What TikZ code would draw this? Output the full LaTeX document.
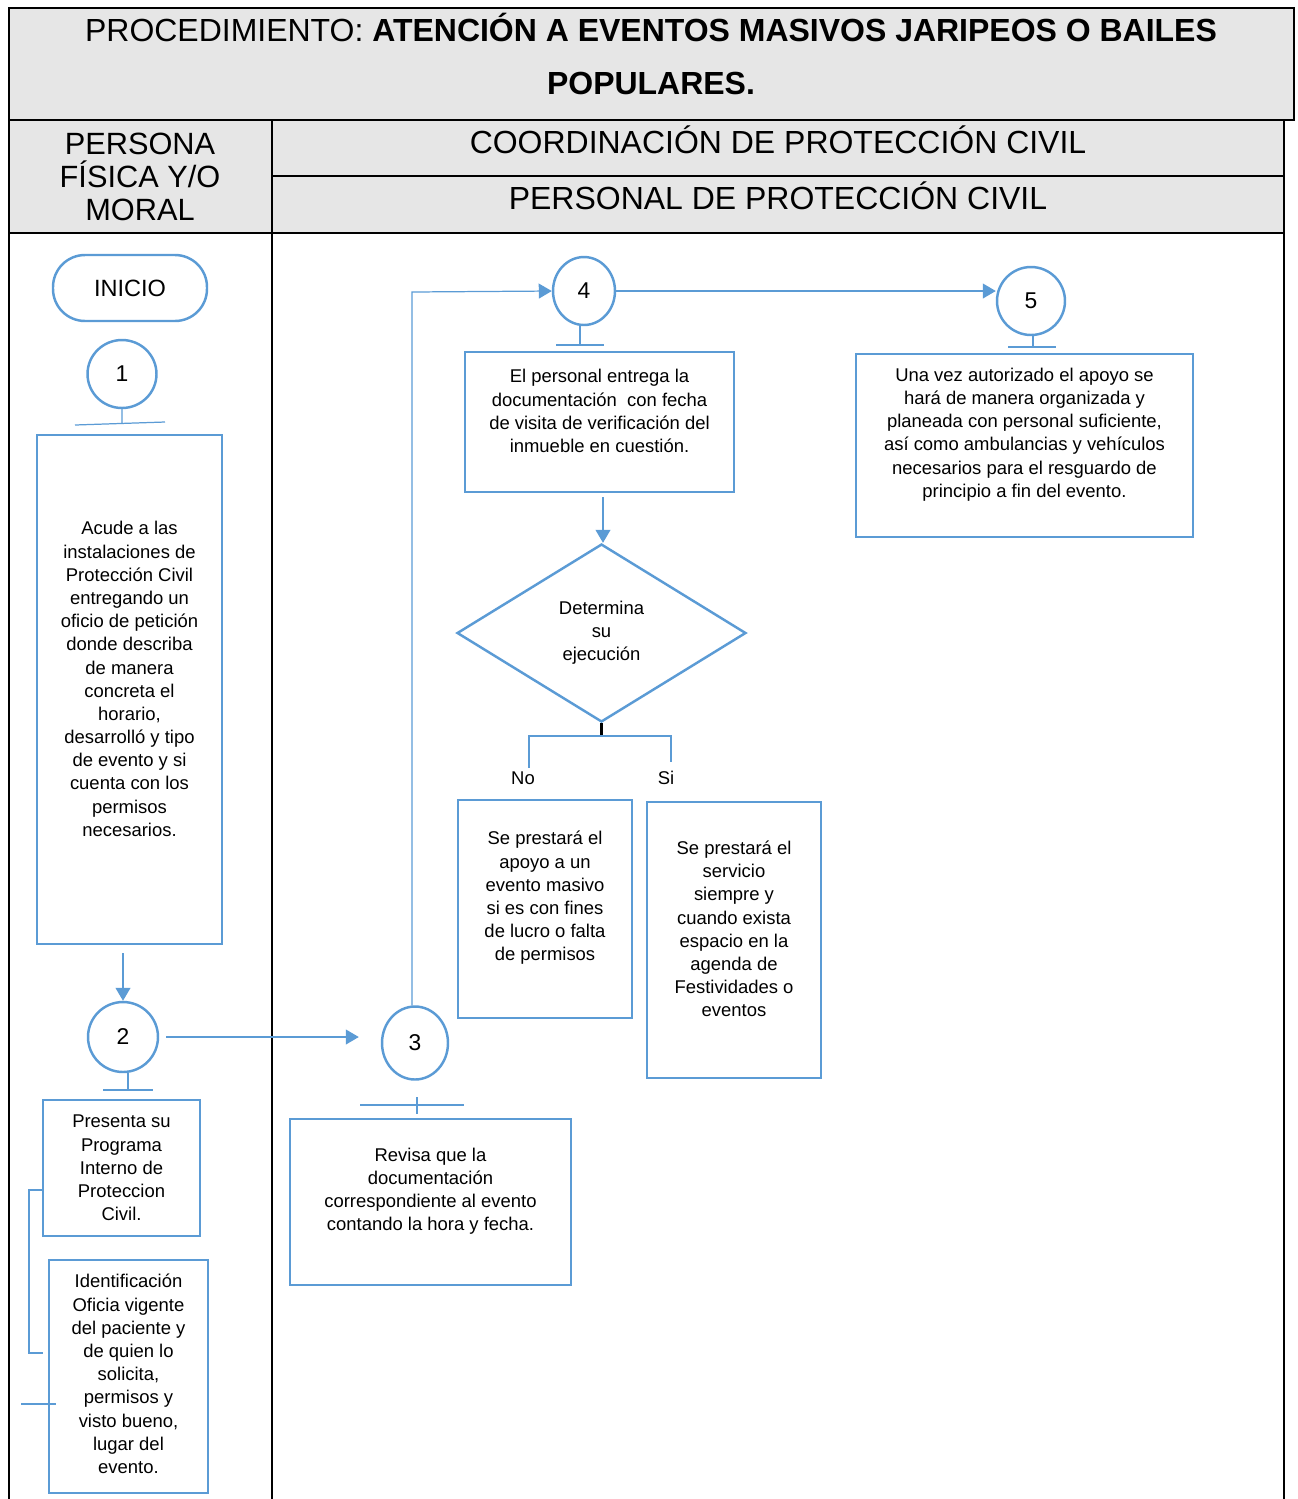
\documentclass[tikz,border=0pt]{standalone}
\usepackage{fontspec}
\setmainfont{Liberation Sans}
\usetikzlibrary{shapes.geometric,arrows.meta,positioning,calc}
\definecolor{flowblue}{HTML}{5B9BD5}
\definecolor{headgray}{HTML}{E6E6E6}
\tikzset{
    head-cell/.style = {draw=black, line width=1.1pt, fill=headgray},
    head-text/.style = {align=center, font=\fontsize{18.2}{19}\selectfont},
    flow-box/.style = {draw=flowblue, line width=1.4pt, rectangle, inner sep=0pt},
    flow-text/.style = {align=center, font=\fontsize{10.5}{13.2}\selectfont},
    flow-circle/.style = {draw=flowblue, line width=1.4pt, ellipse, inner sep=0pt, font=\fontsize{13}{15}\selectfont},
    flow-line/.style = {draw=flowblue, line width=0.7pt},
    flow-arrow/.style = {flow-line, -{Triangle[length=7.4pt,width=8.5pt]}},
}

\begin{document}
\begin{tikzpicture}[x=0.02cm, y=-0.02cm]
\useasboundingbox (0,0) rectangle (1298,1499);
% encabezado
\draw[head-cell] (9,8) rectangle (1294,120);
\draw[head-cell] (9,120) rectangle (272,233);
\draw[head-cell] (272,120) rectangle (1284,176);
\draw[head-cell] (272,176) rectangle (1284,233);
\draw[line width=1.1pt] (9,233) -- (9,1499) (272,233) -- (272,1499) (1284,233) -- (1284,1499);
\node[head-text, font=\fontsize{18.2}{30.6}\selectfont] (title) at (651,54) {PROCEDIMIENTO: \textbf{ATENCIÓN A EVENTOS MASIVOS JARIPEOS O BAILES}\\\textbf{POPULARES.}};
\node[head-text, font=\fontsize{17.5}{19}\selectfont] (persona) at (140,177) {PERSONA\\FÍSICA Y/O\\MORAL};
\node[head-text] (coord) at (778,140) {COORDINACIÓN DE PROTECCIÓN CIVIL};
\node[head-text] (personal) at (778,196) {PERSONAL DE PROTECCIÓN CIVIL};

% persona fisica y/o moral
\node[flow-box, rounded corners=0.64cm, minimum width=3.08cm, minimum height=1.32cm, font=\fontsize{13.4}{15}\selectfont] (inicio) at (130,288) {INICIO};
\node[flow-circle, minimum width=1.38cm, minimum height=1.36cm] (c1) at (122,374) {1};
\node[flow-box, minimum width=3.7cm, minimum height=10.18cm] (b1) at (129.5,689.5) {};
\node[flow-text] (t1) at (129.5,679) {Acude a las\\instalaciones de\\Protección Civil\\entregando un\\oficio de petición\\donde describa\\de manera\\concreta el\\horario,\\desarrolló y tipo\\de evento y si\\cuenta con los\\permisos\\necesarios.};
\node[flow-circle, minimum width=1.4cm, minimum height=1.4cm] (c2) at (123,1037) {2};
\node[flow-box, minimum width=3.14cm, minimum height=2.72cm] (b2a) at (121.5,1168) {};
\node[flow-text] (t2a) at (121.5,1168) {Presenta su\\Programa\\Interno de\\Proteccion\\Civil.};
\node[flow-box, minimum width=3.18cm, minimum height=4.66cm] (b2b) at (128.5,1376.5) {};
\node[flow-text] (t2b) at (128.5,1374) {Identificación\\Oficia vigente\\del paciente y\\de quien lo\\solicita,\\permisos y\\visto bueno,\\lugar del\\evento.};

% personal de proteccion civil
\node[flow-circle, minimum width=1.32cm, minimum height=1.46cm] (c3) at (415,1043) {3};
\node[flow-box, minimum width=5.62cm, minimum height=3.32cm] (b3) at (430.5,1202) {};
\node[flow-text] (t3) at (430.5,1191) {Revisa que la\\documentación\\correspondiente al evento\\contando la hora y fecha.};
\node[flow-circle, minimum width=1.24cm, minimum height=1.36cm] (c4) at (584,291) {4};
\node[flow-box, minimum width=5.38cm, minimum height=2.8cm] (b4) at (599.5,422) {};
\node[flow-text] (t4) at (599.5,411) {El personal entrega la\\documentación\ \ con fecha\\de visita de verificación del\\inmueble en cuestión.};
\node[flow-circle, minimum width=1.36cm, minimum height=1.36cm] (c5) at (1031,301) {5};
\node[flow-box, minimum width=6.74cm, minimum height=3.66cm] (b5) at (1024.5,445.5) {};
\node[flow-text] (t5) at (1024.5,434.5) {Una vez autorizado el apoyo se\\hará de manera organizada y\\planeada con personal suficiente,\\así como ambulancias y vehículos\\necesarios para el resguardo de\\principio a fin del evento.};
\node[flow-box, diamond, minimum width=5.78cm, minimum height=3.56cm, align=center, font=\fontsize{10.5}{13.2}\selectfont] (dia) at (601.5,633) {Determina\\su\\ejecución};
\node[flow-text] (lno) at (523,778) {No};
\node[flow-text] (lsi) at (666,778) {Si};
\node[flow-box, minimum width=3.48cm, minimum height=4.36cm] (bno) at (545,909) {};
\node[flow-text] (tno) at (545,898) {Se prestará el\\apoyo a un\\evento masivo\\si es con fines\\de lucro o falta\\de permisos};
\node[flow-box, minimum width=3.48cm, minimum height=5.52cm] (bsi) at (734,940) {};
\node[flow-text] (tsi) at (734,929) {Se prestará el\\servicio\\siempre y\\cuando exista\\espacio en la\\agenda de\\Festividades o\\eventos};

% conectores
\coordinate (k1) at (122,424);
\draw[flow-line] (c1.south) -- (k1) (75,425) -- (165,422);
\draw[flow-arrow] ([yshift=-0.16cm]b1.south -| c2.north) -- (c2.north);
\coordinate (k2) at (128,1090);
\draw[flow-line] (c2.south -| k2) -- (k2) (103,1090) -- (153,1090);
\draw[flow-arrow, shorten >=0.44cm] ([xshift=0.14cm]c2.east) -- (c3.west |- c2.east);
\coordinate (k3) at (417,1105);
\draw[flow-line] (417,1097) -- (417,1114) (360,1105) -- (464,1105);
\coordinate (bend) at (412,292);
\draw[flow-arrow] (c3.north -| bend) -- (bend) -- (c4.west);
\coordinate (k4) at (580,345);
\draw[flow-line] (c4.south -| k4) -- (k4) (556,345) -- (604,345);
\draw[flow-arrow] (c4.east) -- (c5.west |- c4.east);
\coordinate (k5) at (1033,347);
\draw[flow-line] (c5.south -| k5) -- (k5) (1008,347) -- (1056,347);
\draw[flow-arrow] ([yshift=-0.08cm]b4.south -| 603,0) -- (dia.north -| 603,0);
\coordinate (split) at (601.5,736);
\draw[line width=2.2pt] (dia.south) -- (split);
\coordinate (endno) at (529,768);
\coordinate (endsi) at (671,762);
\draw[flow-line] (split) -| (endno);
\draw[flow-line] (split) -| (endsi);
\draw[flow-line] (43,1190) -- (29,1190) -- (29,1353) -- (43,1353);
\draw[flow-line] (21,1404) -- (56,1404);
\end{tikzpicture}
\end{document}
